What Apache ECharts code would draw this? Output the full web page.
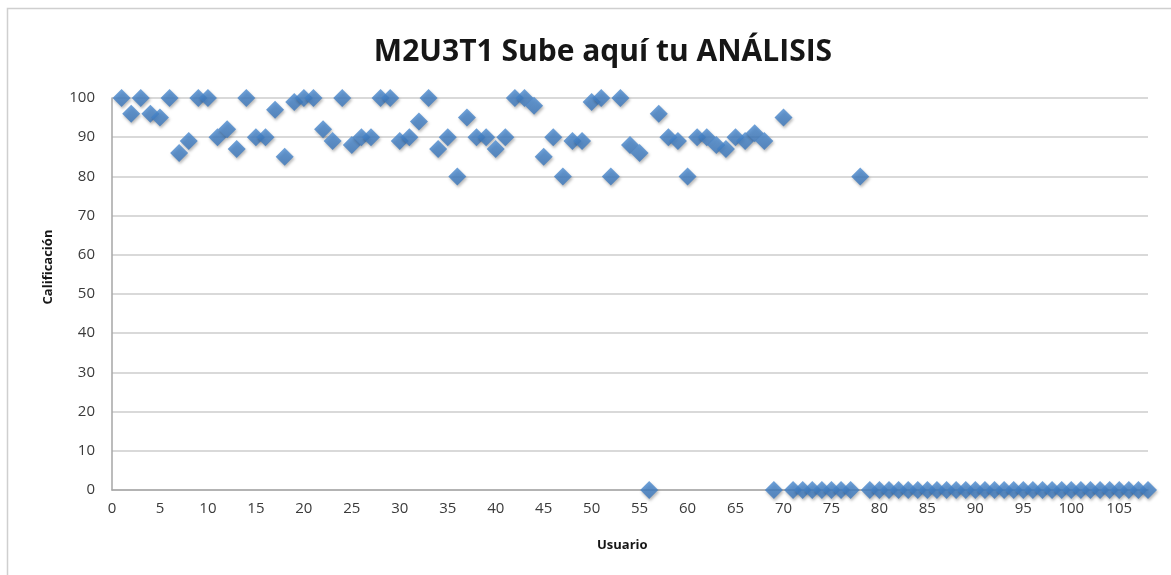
<!DOCTYPE html>
<html>
<head>
<meta charset="utf-8">
<script src="https://cdn.jsdelivr.net/npm/echarts@6/dist/echarts.min.js"></script>
<style>
  html, body { margin: 0; padding: 0; background: #fff; }
  #chart { width: 1171px; height: 575px; }
</style>
</head>
<body>
<div id="chart"></div>
<script>
// ========== 数据 ==========
const TITLE = 'M2U3T1 Sube aquí tu ANÁLISIS';
const X_NAME = 'Usuario';
const Y_NAME = 'Calificación';

// usuario 1..108
const usuarios = Array.from({ length: 108 }, (_, i) => i + 1);

const calificaciones = [
    100, 96, 100, 96, 95, 100, 86, 89, 100, 100,   // 1-10
    90, 92, 87, 100, 90, 90, 97, 85, 99, 100,      // 11-20
    100, 92, 89, 100, 88, 90, 90, 100, 100, 89,    // 21-30
    90, 94, 100, 87, 90, 80, 95, 90, 90, 87,       // 31-40
    90, 100, 100, 98, 85, 90, 80, 89, 89, 99,      // 41-50
    100, 80, 100, 88, 86, 0, 96, 90, 89, 80,       // 51-60
    90, 90, 88, 87, 90, 89, 91, 89, 0, 95,         // 61-70
    0, 0, 0, 0, 0, 0, 0, 80, 0, 0,                 // 71-80
    0, 0, 0, 0, 0, 0, 0, 0, 0, 0,                  // 81-90
    0, 0, 0, 0, 0, 0, 0, 0, 0, 0,                  // 91-100
    0, 0, 0, 0, 0, 0, 0, 0                         // 101-108
];

const X_MIN = 0, X_MAX = 108, X_STEP = 5;
const Y_MIN = 0, Y_MAX = 100, Y_STEP = 10;

// ========== 图表 ==========
const FONT = '"Open Sans", Lato, sans-serif';
const chart = echarts.init(document.getElementById('chart'));

const option = {
    animation: false,
    title: {
        text: TITLE,
        left: 598,
        top: 32,
        textAlign: 'center',
        textStyle: { fontFamily: FONT, fontSize: 30, fontWeight: 'bold', color: '#161616' }
    },
    grid: { left: 112, right: 23, top: 98, bottom: 85, containLabel: false },
    xAxis: {
        type: 'value',
        min: X_MIN, max: X_MAX, interval: X_STEP,
        axisLine: { show: true, onZero: false, lineStyle: { color: '#a6a6a6', width: 1.5 } },
        axisTick: { show: false },
        splitLine: { show: false },
        axisLabel: {
            margin: 11, showMaxLabel: false,
            fontFamily: FONT, fontSize: 15, color: '#3a3a3a',
            formatter: v => (v % X_STEP === 0 ? v : '')
        }
    },
    yAxis: {
        type: 'value',
        min: Y_MIN, max: Y_MAX, interval: Y_STEP,
        axisLine: { show: true, lineStyle: { color: '#a6a6a6', width: 1.5 } },
        axisTick: { show: false },
        splitLine: { show: true, lineStyle: { color: '#d9d9d9', width: 2 } },
        axisLabel: { margin: 17, fontFamily: FONT, fontSize: 15, color: '#3a3a3a' }
    },
    graphic: [
        {
            type: 'rect', z: -1, silent: true,
            shape: { x: 7.5, y: 8.5, width: 1200, height: 600 },
            style: { fill: 'none', stroke: '#cfcfcf', lineWidth: 1.5 }
        },
        {
            type: 'text', left: 597, top: 539,
            style: { text: X_NAME, font: 'bold 13px ' + FONT, fill: '#161616' }
        },
        {
            type: 'text', x: 48, y: 267, rotation: Math.PI / 2,
            style: {
                text: Y_NAME, font: 'bold 13px ' + FONT, fill: '#161616',
                align: 'center', verticalAlign: 'middle'
            }
        }
    ],
    series: [{
        type: 'scatter',
        symbol: 'diamond',
        symbolSize: [18, 18],
        data: usuarios.map((u, i) => [u, calificaciones[i]]),
        itemStyle: {
            color: new echarts.graphic.LinearGradient(0, 0, 0, 1, [
                { offset: 0, color: '#4b8bd1' },
                { offset: 1, color: '#3a76bb' }
            ]),
            shadowBlur: 3,
            shadowOffsetX: 1,
            shadowOffsetY: 2,
            shadowColor: 'rgba(0, 0, 0, 0.35)'
        }
    }]
};

chart.setOption(option);
</script>
</body>
</html>
